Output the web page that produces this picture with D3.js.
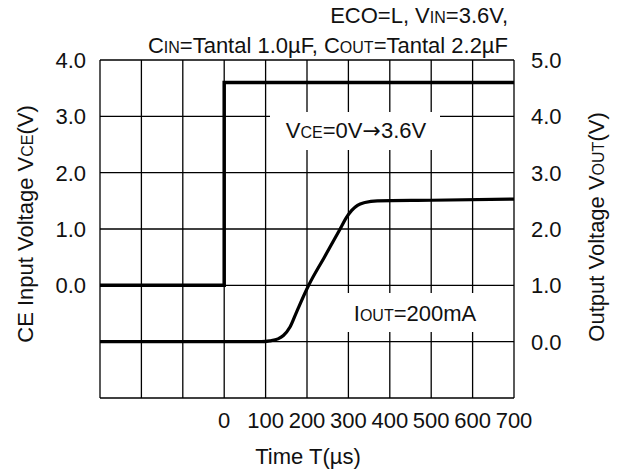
<!DOCTYPE html>
<html>
<head>
<meta charset="utf-8">
<script src="https://cdn.jsdelivr.net/npm/d3@7"></script>
<style>
  body { margin: 0; background: #fff; }
  text { font-family: "Liberation Sans", Arial, sans-serif; fill: #111; }
</style>
</head>
<body>
<svg id="chart" width="620" height="473"></svg>
<script>
// time axis (us) and tick labels
var timeTicks = [0, 100, 200, 300, 400, 500, 600, 700];
var vceTicks = [0, 1, 2, 3, 4];
var voutTicks = [0, 1, 2, 3, 4, 5];

// CE input voltage step
var vceTime  = [-300, 0, 0, 700];
var vceValue = [0, 0, 3.6, 3.6];

// output voltage rise
var voutTime  = [-300, 0, 90, 110, 130, 143, 159, 175, 204, 242, 280, 295, 308, 322, 340, 370, 500, 700];
var voutValue = [0, 0, 0, 0.015, 0.05, 0.11, 0.26, 0.53, 1.0, 1.5, 2.0, 2.2, 2.33, 2.42, 2.47, 2.5, 2.51, 2.53];

var svg = d3.select("#chart");
var pLeft = 100, pRight = 514, pTop = 60, pBottom = 398;
var FS = 22, SUB = 16;

var x = d3.scaleLinear().domain([-300, 700]).range([pLeft, pRight]);
var yL = d3.scaleLinear().domain([-2, 4]).range([pBottom, pTop]);
var yR = d3.scaleLinear().domain([-1, 5]).range([pBottom, pTop]);

// grid
var grid = svg.append("g").attr("stroke", "#000").attr("stroke-width", 1.3);
grid.selectAll("line.v")
  .data(d3.range(-300, 701, 100))
  .enter().append("line")
  .attr("x1", function(d) { return x(d); })
  .attr("x2", function(d) { return x(d); })
  .attr("y1", pTop).attr("y2", pBottom);
grid.selectAll("line.h")
  .data(d3.range(-2, 4.01, 1))
  .enter().append("line")
  .attr("x1", pLeft).attr("x2", pRight)
  .attr("y1", function(d) { return yL(d); })
  .attr("y2", function(d) { return yL(d); });

// text with small-caps style subscripts: parts = [[str, small?, font?], ...]
function label(g, px, py, parts, anchor, rotate) {
  var t = g.append("text")
    .attr("text-anchor", anchor)
    .attr("font-size", FS)
    .attr("transform", "translate(" + px + "," + py + ")" + (rotate ? " rotate(-90)" : ""));
  parts.forEach(function(p) {
    var s = t.append("tspan").attr("font-size", p[1] ? SUB : FS).text(p[0]);
    if (p[2]) s.style("font-family", p[2]);
  });
  return t;
}

// annotation boxes (white, hide grid)
function box(x0, y0, x1, y1) {
  svg.append("rect").attr("x", x0).attr("y", y0)
    .attr("width", x1 - x0).attr("height", y1 - y0).attr("fill", "#fff");
}
box(270, 112, 440, 150);
box(342, 293, 488, 332);

// curves
svg.append("path")
  .datum(d3.zip(vceTime, vceValue))
  .attr("fill", "none").attr("stroke", "#000").attr("stroke-width", 3.5)
  .attr("d", d3.line()
    .x(function(d) { return x(d[0]); })
    .y(function(d) { return yL(d[1]); }));

svg.append("path")
  .datum(d3.zip(voutTime, voutValue))
  .attr("fill", "none").attr("stroke", "#000").attr("stroke-width", 3.2)
  .attr("d", d3.line()
    .x(function(d) { return x(d[0]); })
    .y(function(d) { return yR(d[1]); })
    .curve(d3.curveMonotoneX));

// tick labels
var g = svg.append("g");
vceTicks.forEach(function(v) {
  label(g, 86, yL(v) + 8, [[v.toFixed(1)]], "end");
});
voutTicks.forEach(function(v) {
  label(g, 531, yR(v) + 8, [[v.toFixed(1)]], "start");
});
timeTicks.forEach(function(t) {
  label(g, x(t), 428, [[String(t)]], "middle");
});

// axis titles
label(g, 308, 464, [["Time T(\u00b5s)"]], "middle");
label(g, 33, 224, [["CE Input Voltage V"], ["CE", 1], ["(V)"]], "middle", true);
label(g, 604, 227, [["Output Voltage V"], ["OUT", 1], ["(V)"]], "middle", true);

// conditions
label(g, 508, 23, [["ECO=L, V"], ["IN", 1], ["=3.6V,"]], "end");
label(g, 508, 53, [["C"], ["IN", 1], ["=Tantal 1.0\u00b5F, C"], ["OUT", 1], ["=Tantal 2.2\u00b5F"]], "end");

// annotations
label(g, 356, 138, [["V"], ["CE", 1], ["=0V"], ["\u2192", 0, "DejaVu Sans"], ["3.6V"]], "middle");
label(g, 415, 321, [["I"], ["OUT", 1], ["=200mA"]], "middle");
</script>
</body>
</html>
